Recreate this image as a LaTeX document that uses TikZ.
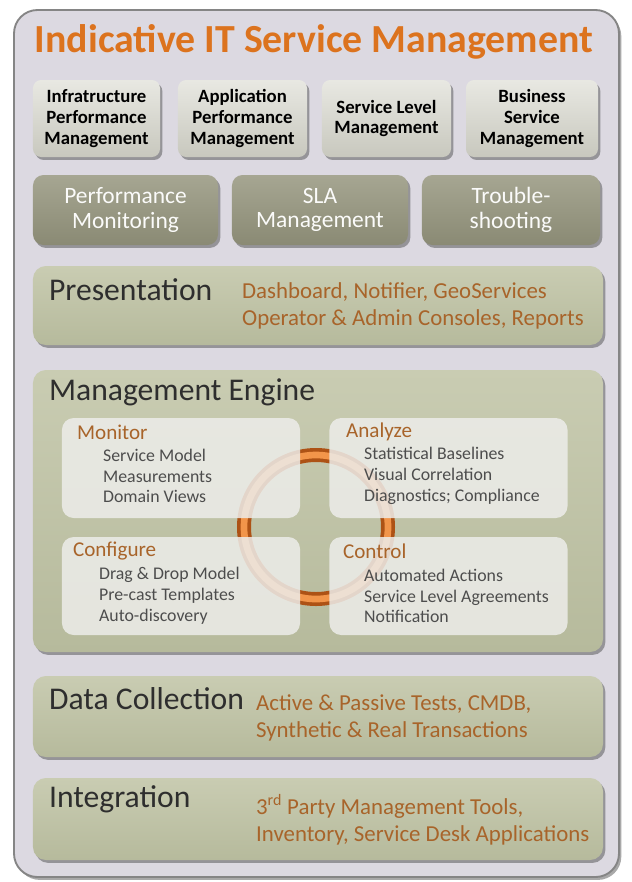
\documentclass[tikz,border=0pt]{standalone}
\usepackage{fontspec}
\setmainfont{Carlito}
\usetikzlibrary{shadows}

\definecolor{panelbg}{HTML}{DCD9E1}
\definecolor{paneledge}{HTML}{858585}
\definecolor{titleorange}{HTML}{DC731E}
\definecolor{itemorange}{HTML}{A8642A}
\definecolor{ringorange}{HTML}{D8661A}
\definecolor{ringlight}{HTML}{F2954A}
\definecolor{greytop}{HTML}{E8E8E2}
\definecolor{greybot}{HTML}{C8C8BE}
\definecolor{olivetop}{HTML}{A6A692}
\definecolor{olivebot}{HTML}{8A8A74}
\definecolor{sagetop}{HTML}{C9CCB2}
\definecolor{sagebot}{HTML}{B6BA9C}
\definecolor{quadfill}{HTML}{EDEDEA}
\definecolor{darktext}{HTML}{2E2E2E}

\begin{document}
\begin{tikzpicture}[x=0.03cm,y=-0.03cm,
  shade/.style={drop shadow={shadow xshift=2pt,shadow yshift=-2.5pt,opacity=.45,fill=black!75}},
  panel/.style={rounded corners=20pt,fill=panelbg,draw=paneledge,line width=1.6pt,shade},
  topbox/.style={rounded corners=7pt,top color=greytop,bottom color=greybot,shade,
    minimum height=2.31cm,align=center,text=black,
    font=\fontsize{16}{17.6}\selectfont\bfseries},
  midbox/.style={rounded corners=9pt,top color=olivetop,bottom color=olivebot,shade,
    minimum height=2.1cm,align=center,text=white!95!olivetop,
    font=\fontsize{20}{21}\selectfont},
  layer/.style={rounded corners=11pt,top color=sagetop,bottom color=sagebot,shade,
    minimum width=17.1cm},
  quad/.style={rounded corners=10pt,fill=quadfill,fill opacity=.85,
    minimum width=7.14cm,minimum height=3cm},
  head/.style={anchor=west,text=darktext,font=\fontsize{27}{30}\selectfont},
  items/.style={anchor=west,align=left,text=itemorange,font=\fontsize{19.5}{23}\selectfont},
  quadhead/.style={anchor=west,text=itemorange,font=\fontsize{18}{20}\selectfont},
  quaditems/.style={anchor=west,align=left,text=darktext!85,font=\fontsize{15.2}{17.8}\selectfont}]
\useasboundingbox (0,0) rectangle (631,882);

% outer panel and title
\draw[panel] (14,10) rectangle (619,877);
\node[text=titleorange,font=\fontsize{34}{38}\selectfont\bfseries] (title) at (314,42)
  {Indicative IT Service Management};

% disciplines
\node[topbox,minimum width=3.81cm] (ipm) at (96.5,118.5) {Infratructure\\Performance\\Management};
\node[topbox,minimum width=3.87cm] (apm) at (242.5,118.5) {Application\\Performance\\Management};
\node[topbox,minimum width=3.87cm] (slm) at (386.5,118.5) {Service Level\\Management};
\node[topbox,minimum width=3.96cm] (bsm) at (532,118.5) {Business\\Service\\Management};

% functions
\node[midbox,minimum width=5.55cm] (perf) at (125.5,210) {Performance\\Monitoring};
\node[midbox,minimum width=5.28cm] (sla) at (320,210) {SLA\\Management};
\node[midbox,minimum width=5.34cm] (trbl) at (511,210) {Trouble-\\shooting};

% presentation layer
\node[layer,minimum height=2.37cm] (pres) at (318,305.5) {};
\node[head] (presT) at (45,290) {Presentation};
\node[items] (presI) at (238,306) {Dashboard, Notifier, GeoServices\\Operator \& Admin Consoles, Reports};

% management engine
\node[layer,minimum height=8.46cm] (eng) at (318,511) {};
\node[head] (engT) at (45,392) {Management Engine};
\draw[ringorange!80!black,line width=0.42cm] (316,527) circle (2.16cm);
\draw[ringlight,line width=0.2cm] (316,527) circle (2.16cm);

\node[quad] (mon) at (181,468) {};
\node[quad] (ana) at (448.5,468) {};
\node[quad,minimum height=2.94cm] (cfg) at (181,586) {};
\node[quad,minimum height=2.94cm] (ctl) at (448.5,586) {};

\node[quadhead] (monT) at (73,432) {Monitor};
\node[quaditems] (monI) at (99,476) {Service Model\\Measurements\\Domain Views};
\node[quadhead] (anaT) at (342,432) {Analyze};
\node[quaditems] (anaI) at (360,476) {Statistical Baselines\\Visual Correlation\\Diagnostics; Compliance};
\node[quadhead] (cfgT) at (69,551) {Configure};
\node[quaditems] (cfgI) at (95,596) {Drag \& Drop Model\\Pre-cast Templates\\Auto-discovery};
\node[quadhead] (ctlT) at (339,551) {Control};
\node[quaditems] (ctlI) at (360,596) {Automated Actions\\Service Level Agreements\\Notification};

% data collection layer
\node[layer,minimum height=2.43cm] (data) at (318,716.5) {};
\node[head] (dataT) at (45,699) {Data Collection};
\node[items] (dataI) at (252,717.5) {Active \& Passive Tests, CMDB,\\Synthetic \& Real Transactions};

% integration layer
\node[layer,minimum height=2.46cm] (intg) at (318,819) {};
\node[head] (intgT) at (45,799) {Integration};
\node[items] (intgI) at (252,820) {3\textsuperscript{rd} Party Management Tools,\\Inventory, Service Desk Applications};
\end{tikzpicture}
\end{document}
